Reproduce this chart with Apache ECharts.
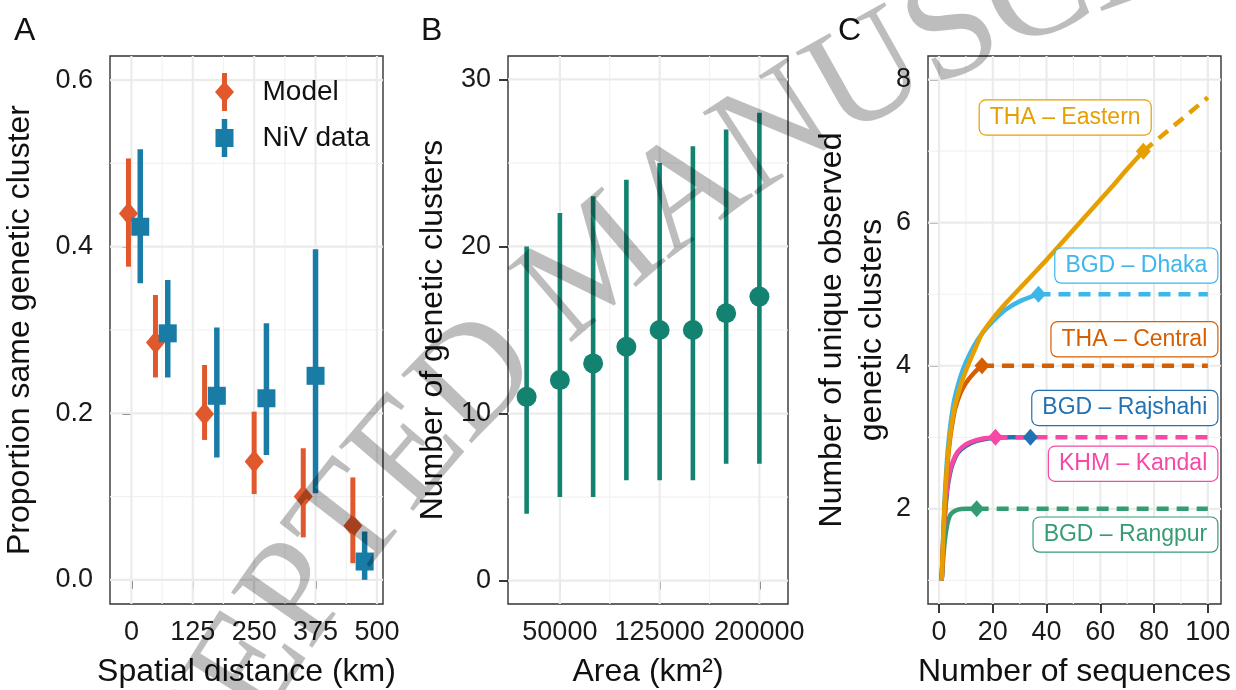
<!DOCTYPE html>
<html lang="en">
<head>
	<meta charset="UTF-8">
	<title>NiV genetic clusters</title>
	<style>
		html, body { margin: 0; padding: 0; background: #fff; }
		#main { width: 1236px; height: 690px; }
	</style>
	<script src="https://cdn.jsdelivr.net/npm/echarts@6.0.0/dist/echarts.min.js"></script>
</head>
<body>
	<div id="main"></div>
	<script>
		// ---- panel A : proportion in same genetic cluster by distance ----
		var modelDist = [-6, 49, 149, 250, 350, 451];
		var modelProp = [0.440, 0.285, 0.199, 0.142, 0.100, 0.065];
		var modelLow  = [0.376, 0.243, 0.168, 0.103, 0.051, 0.020];
		var modelHigh = [0.506, 0.342, 0.258, 0.202, 0.158, 0.123];
		var nivDist = [18, 74, 174, 275, 375, 475];
		var nivProp = [0.424, 0.296, 0.221, 0.218, 0.245, 0.022];
		var nivLow  = [0.356, 0.243, 0.147, 0.150, 0.104, 0.000];
		var nivHigh = [0.517, 0.360, 0.303, 0.308, 0.397, 0.058];
		var distTicks = [0, 125, 250, 375, 500];
		var distMinor = [62.5, 187.5, 312.5, 437.5];
		var propTicks = [0, 0.2, 0.4, 0.6];
		var propMinor = [0.1, 0.3, 0.5];

		// ---- panel B : number of clusters by area ----
		var areas = [25000, 50000, 75000, 100000, 125000, 150000, 175000, 200000];
		var areaClusters = [11, 12, 13, 14, 15, 15, 16, 17];
		var areaLow  = [4, 5, 5, 6, 6, 6, 7, 7];
		var areaHigh = [20, 22, 23, 24, 25, 26, 27, 28];
		var areaTicks = [50000, 125000, 200000];
		var areaMinor = [87500, 162500];
		var clusterTicks = [0, 10, 20, 30];
		var clusterMinor = [5, 15, 25];

		// ---- panel C : rarefaction curves ----
		var regions = ['BGD – Dhaka', 'BGD – Rajshahi', 'BGD – Rangpur', 'KHM – Kandal', 'THA – Central', 'THA – Eastern'];
		var regionColors = ['#3DB7E9', '#2271B2', '#359B73', '#F748A5', '#D55E00', '#E69F00'];
		var dhakaCurve = [[1, 1], [2, 2.05], [3, 2.7], [4, 3.1], [5, 3.38], [6, 3.58], [8, 3.85], [10, 4.05], [13, 4.28], [16, 4.45], [20, 4.62], [25, 4.79], [30, 4.9], [37, 5]];
		var rajshahiCurve = [[1, 1], [2, 1.8], [3, 2.25], [4, 2.48], [5, 2.62], [7, 2.78], [10, 2.88], [14, 2.95], [20, 2.99], [27, 3], [34, 3]];
		var rangpurCurve = [[1, 1], [2, 1.5], [3, 1.77], [4, 1.9], [5, 1.95], [7, 1.99], [10, 2], [14, 2]];
		var kandalCurve = [[1, 1], [2, 1.85], [3, 2.3], [4, 2.52], [5, 2.65], [7, 2.8], [10, 2.9], [13, 2.95], [16, 2.98], [21, 3]];
		var centralCurve = [[1, 1], [2, 1.95], [3, 2.55], [4, 2.95], [5, 3.2], [6, 3.4], [8, 3.62], [10, 3.76], [13, 3.9], [16, 4]];
		var easternCurve = [[1, 1], [2, 2], [3, 2.6], [4, 3], [5, 3.25], [6, 3.45], [8, 3.72], [10, 3.93], [13, 4.2], [16, 4.45], [20, 4.66], [25, 4.88], [30, 5.08], [35, 5.28], [40, 5.48], [45, 5.69], [50, 5.9], [55, 6.11], [60, 6.32], [65, 6.53], [70, 6.75], [76, 7]];
		// extrapolated (dashed) part; Rajshahi's is hidden under Kandal's
		var dhakaExtra = [[37, 5], [100, 5]];
		var rangpurExtra = [[14, 2], [100, 2]];
		var kandalExtra = [[21, 3], [100, 3]];
		var centralExtra = [[16, 4], [100, 4]];
		var easternExtra = [[76, 7], [100, 7.75]];
		var labelX = [103.7, 103.7, 103.7, 103.7, 103.7, 78.9];
		var labelY = [5.40, 3.41, 1.64, 2.63, 4.37, 7.47];
		var seqTicks = [0, 20, 40, 60, 80, 100];
		var seqMinor = [10, 30, 50, 70, 90];
		var uniqTicks = [2, 4, 6, 8];
		var uniqMinor = [1, 3, 5, 7];

		var observedCurves = [dhakaCurve, rajshahiCurve, rangpurCurve, kandalCurve, centralCurve, easternCurve];
		var extraCurves = [dhakaExtra, null, rangpurExtra, kandalExtra, centralExtra, easternExtra];

		var FONT = '"Liberation Sans", Arial, Helvetica, sans-serif';
		var ORANGE = '#E1582C';
		var BLUE = '#197CA6';
		var TEAL = '#138270';

		function zip(xs, ys) {
			return xs.map(function (x, i) { return [x, ys[i]]; });
		}
		function zip3(xs, a, b) {
			return xs.map(function (x, i) { return [x, a[i], b[i]]; });
		}

		// vertical error bar drawn through the axis scales
		function barRender(width, color) {
			return function (params, api) {
				var p1 = api.coord([api.value(0), api.value(1)]);
				var p2 = api.coord([api.value(0), api.value(2)]);
				return {
					type: 'line',
					shape: {x1: p1[0], y1: p1[1], x2: p2[0], y2: p2[1]},
					style: {stroke: color, lineWidth: width}
				};
			};
		}

		// background grid lines (major / minor) at axis values
		function gridRender(params, api) {
			var v = api.value(0), horiz = api.value(1), major = api.value(2);
			var cs = params.coordSys;
			var pt = api.coord([v, v]);
			var shape = horiz
				? {x1: cs.x, y1: pt[1], x2: cs.x + cs.width, y2: pt[1]}
				: {x1: pt[0], y1: cs.y, x2: pt[0], y2: cs.y + cs.height};
			return {
				type: 'line', shape: shape,
				style: {stroke: major ? '#EBEBEB' : '#F2F2F2', lineWidth: major ? 2.2 : 1.2}
			};
		}
		function gridSeries(idx, xMaj, xMin, yMaj, yMin) {
			var d = [];
			xMin.forEach(function (v) { d.push([v, 0, 0]); });
			yMin.forEach(function (v) { d.push([v, 1, 0]); });
			xMaj.forEach(function (v) { d.push([v, 0, 1]); });
			yMaj.forEach(function (v) { d.push([v, 1, 1]); });
			return {
				type: 'custom', xAxisIndex: idx, yAxisIndex: idx, silent: true, z: 1,
				renderItem: gridRender, data: d, encode: {x: 0, y: 1}
			};
		}

		function plain(v) { return String(v); }

		function xAxisCfg(idx, min, max, ticks, name) {
			return {
				type: 'value', gridIndex: idx, min: min, max: max,
				name: name, nameLocation: 'middle', nameGap: 52,
				nameTextStyle: {fontSize: 32, color: '#111', fontFamily: FONT},
				axisLine: {show: false},
				splitLine: {show: false},
				axisTick: {show: true, customValues: ticks, length: 9, lineStyle: {color: '#222', width: 1.8}},
				axisLabel: {customValues: ticks, fontSize: 27, color: '#1a1a1a', fontFamily: FONT, margin: 15, formatter: plain}
			};
		}
		function yAxisCfg(idx, min, max, ticks, name, gap, fmt) {
			return {
				type: 'value', gridIndex: idx, min: min, max: max,
				name: name, nameLocation: 'middle', nameGap: gap,
				nameTextStyle: {fontSize: 32, color: '#111', fontFamily: FONT, lineHeight: 40},
				axisLine: {show: false},
				splitLine: {show: false},
				axisTick: {show: true, customValues: ticks, length: 9, lineStyle: {color: '#222', width: 1.8}},
				axisLabel: {customValues: ticks, fontSize: 27, color: '#1a1a1a', fontFamily: FONT, margin: 17, formatter: fmt || plain}
			};
		}

		var modelIcon = 'path://M7.5,0 L12.5,0 L12.5,10.9 L19.5,19 L12.5,27.1 L12.5,38 L7.5,38 L7.5,27.1 L0.5,19 L7.5,10.9 Z';
		var nivIcon = 'path://M7.25,0 L12.75,0 L12.75,10 L19,10 L19,28 L12.75,28 L12.75,38 L7.25,38 L7.25,28 L1,28 L1,10 L7.25,10 Z';

		var series = [
			gridSeries(0, distTicks, distMinor, propTicks, propMinor),
			gridSeries(1, areaTicks, areaMinor, clusterTicks, clusterMinor),
			gridSeries(2, seqTicks, seqMinor, uniqTicks, uniqMinor),
			// panel A
			{type: 'custom', name: 'Model range', xAxisIndex: 0, yAxisIndex: 0, z: 3,
				renderItem: barRender(5, ORANGE), encode: {x: 0, y: [1, 2]}, data: zip3(modelDist, modelLow, modelHigh)},
			{type: 'scatter', name: 'Model', xAxisIndex: 0, yAxisIndex: 0, z: 4,
				symbol: 'diamond', symbolSize: [19, 23], itemStyle: {color: ORANGE, opacity: 1},
				data: zip(modelDist, modelProp)},
			{type: 'custom', name: 'NiV range', xAxisIndex: 0, yAxisIndex: 0, z: 3,
				renderItem: barRender(5.5, BLUE), encode: {x: 0, y: [1, 2]}, data: zip3(nivDist, nivLow, nivHigh)},
			{type: 'scatter', name: 'NiV data', xAxisIndex: 0, yAxisIndex: 0, z: 4,
				symbol: 'rect', symbolSize: [18, 18], itemStyle: {color: BLUE, opacity: 1},
				data: zip(nivDist, nivProp)},
			// panel B
			{type: 'custom', name: 'Area range', xAxisIndex: 1, yAxisIndex: 1, z: 3,
				renderItem: barRender(4.6, TEAL), encode: {x: 0, y: [1, 2]}, data: zip3(areas, areaLow, areaHigh)},
			{type: 'scatter', name: 'Clusters', xAxisIndex: 1, yAxisIndex: 1, z: 4,
				symbol: 'circle', symbolSize: 20, itemStyle: {color: TEAL, opacity: 1},
				data: zip(areas, areaClusters)}
		];

		// panel C curves, in drawing order
		regions.forEach(function (r, i) {
			var c = regionColors[i];
			if (extraCurves[i]) {
				series.push({type: 'line', name: r + ' extrapolated', xAxisIndex: 2, yAxisIndex: 2, z: 3,
					showSymbol: false, data: extraCurves[i],
					lineStyle: {color: c, width: 4.5, type: [12, 8], cap: 'butt'}});
			}
			series.push({type: 'line', name: r, xAxisIndex: 2, yAxisIndex: 2, z: 3,
				showSymbol: false, smooth: 0.3, data: observedCurves[i],
				lineStyle: {color: c, width: 4.5}});
		});
		regions.forEach(function (r, i) {
			var pts = observedCurves[i];
			series.push({type: 'scatter', name: r + ' observed', xAxisIndex: 2, yAxisIndex: 2, z: 5,
				symbol: 'diamond', symbolSize: [15, 17], itemStyle: {color: regionColors[i], opacity: 1},
				data: [pts[pts.length - 1]]});
		});
		series.push({type: 'scatter', name: 'region labels', xAxisIndex: 2, yAxisIndex: 2, z: 6,
			symbolSize: 1, itemStyle: {color: 'rgba(0,0,0,0)', opacity: 1}, silent: true,
			data: regions.map(function (r, i) {
				return {
					value: [labelX[i], labelY[i]], name: r,
					label: {
						show: true, position: 'left', distance: 0, formatter: r,
						fontSize: 23, fontFamily: FONT, color: regionColors[i], lineHeight: 25,
						backgroundColor: '#fff', borderColor: regionColors[i], borderWidth: 1.2,
						borderRadius: 6, padding: [5, 10, 4, 10]
					}
				};
			})});

		// watermark letters laid along an arc (layout only)
		var wmText = 'ACCEPTED MANUSCRIPT';
		var wmWidths = {A: 0.722, C: 0.667, E: 0.611, P: 0.556, T: 0.611, D: 0.722, ' ': 0.25, M: 0.889, N: 0.722, U: 0.722, S: 0.556, R: 0.667, I: 0.333};
		var wmSize = 150, wmCx = 1713, wmCy = 1577, wmR = 1720;
		var graphics = [];
		var s = 0, centers = [];
		for (var i = 0; i < wmText.length; i++) {
			var w = wmWidths[wmText[i]] * wmSize;
			centers.push(s + w / 2);
			s += w;
		}
		for (i = 0; i < wmText.length; i++) {
			if (wmText[i] === ' ') continue;
			var th = -145.2 * Math.PI / 180 + (centers[i] - centers[4]) / wmR;
			graphics.push({
				type: 'text', z: 100, silent: true,
				x: wmCx + wmR * Math.cos(th), y: wmCy + wmR * Math.sin(th),
				rotation: -th - Math.PI / 2,
				style: {text: wmText[i], fontSize: wmSize, fontFamily: '"Liberation Serif", "Times New Roman", serif',
					fill: 'rgba(0,0,0,0.26)', align: 'center', verticalAlign: 'middle'}
			});
		}
		// panel letters
		[['A', 14], ['B', 421], ['C', 838]].forEach(function (p) {
			graphics.push({type: 'text', x: p[1], y: 31, z: 50,
				style: {text: p[0], fontSize: 32, fontFamily: FONT, fill: '#111', verticalAlign: 'middle'}});
		});

		var chart = echarts.init(document.getElementById('main'));
		chart.setOption({
			animation: false,
			backgroundColor: '#fff',
			grid: [
				{left: 110, top: 56, width: 273, height: 548, show: true, backgroundColor: '#fff', borderColor: '#333', borderWidth: 1.4, outerBoundsMode: 'none'},
				{left: 508, top: 56, width: 280, height: 548, show: true, backgroundColor: '#fff', borderColor: '#333', borderWidth: 1.4, outerBoundsMode: 'none'},
				{left: 928, top: 56, width: 293, height: 548, show: true, backgroundColor: '#fff', borderColor: '#333', borderWidth: 1.4, outerBoundsMode: 'none'}
			],
			xAxis: [
				xAxisCfg(0, -43.6, 512.4, distTicks, 'Spatial distance (km)'),
				xAxisCfg(1, 11000, 221500, areaTicks, 'Area (km²)'),
				xAxisCfg(2, -4.1, 104.9, seqTicks, 'Number of sequences')
			],
			yAxis: [
				yAxisCfg(0, -0.029, 0.629, propTicks, 'Proportion same genetic cluster', 70, function (v) { return v.toFixed(1); }),
				yAxisCfg(1, -1.4, 31.4, clusterTicks, 'Number of genetic clusters', 55),
				yAxisCfg(2, 0.67, 8.33, uniqTicks, 'Number of unique observed\ngenetic clusters', 33)
			],
			legend: {
				data: [{name: 'Model', icon: modelIcon}, {name: 'NiV data', icon: nivIcon}],
				orient: 'vertical', left: 210, top: 68, itemWidth: 20, itemHeight: 38, itemGap: 8,
				selectedMode: false,
				textStyle: {fontSize: 28, color: '#111', fontFamily: FONT, padding: [0, 0, 0, 23]}
			},
			graphic: graphics,
			series: series
		});
	</script>
</body>
</html>
